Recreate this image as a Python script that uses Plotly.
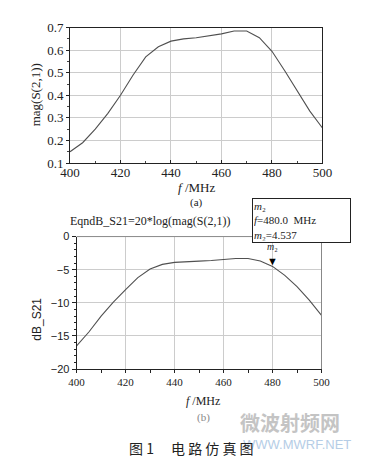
import plotly.graph_objects as go

freq = [400, 405, 410, 415, 420, 425, 430, 435, 440, 445, 450, 455, 460, 465, 470, 475, 480, 485, 490, 495, 500]
mag_s21 = [0.15, 0.19, 0.25, 0.32, 0.40, 0.49, 0.57, 0.615, 0.64, 0.65, 0.655, 0.663, 0.672, 0.685, 0.685, 0.655, 0.595, 0.51, 0.42, 0.33, 0.255]
db_s21 = [-16.5, -14.4, -12.0, -9.9, -8.0, -6.2, -4.9, -4.2, -3.9, -3.75, -3.7, -3.6, -3.45, -3.3, -3.3, -3.7, -4.5, -5.85, -7.55, -9.6, -11.9]
x_ticks = [400, 420, 440, 460, 480, 500]
mag_ticks = [0.1, 0.2, 0.3, 0.4, 0.5, 0.6, 0.7]
db_ticks = [-20, -15, -10, -5, 0]
marker_f = 480

W, H = 367, 462
def px(x): return x / W
def py(y): return 1 - y / H

serif = "Liberation Serif"
sans = "Liberation Sans"
grid = "#cccccc"
line_col = "#505050"

fig = go.Figure()
fig.add_trace(go.Scatter(x=freq, y=mag_s21, mode="lines", line=dict(color=line_col, width=1.1),
                         xaxis="x", yaxis="y", showlegend=False, hoverinfo="skip"))
fig.add_trace(go.Scatter(x=freq, y=db_s21, mode="lines", line=dict(color=line_col, width=1.1),
                         xaxis="x2", yaxis="y2", showlegend=False, hoverinfo="skip"))

def axis(**kw):
    d = dict(showline=True, linecolor="#222", linewidth=1,
             showgrid=True, gridcolor=grid, gridwidth=1, zeroline=False,
             ticks="outside", ticklen=3, tickcolor="#222")
    d.update(kw)
    return d

fig.update_layout(
    width=W, height=H, margin=dict(l=0, r=0, t=0, b=0),
    paper_bgcolor="white", plot_bgcolor="white",
    xaxis=axis(domain=[px(55), px(322)], range=[400, 500], tickvals=x_ticks, mirror=True,
               tickfont=dict(family=serif, size=13, color="#222"), anchor="y",
               ticks="inside", ticklabelstandoff=-3,
               minor=dict(dtick=10, ticks="inside", ticklen=2, tickcolor="#444", showgrid=False)),
    yaxis=axis(domain=[py(153), py(13)], range=[0.1, 0.7], tickvals=mag_ticks, tickformat=".1f", mirror=True,
               tickfont=dict(family=serif, size=13, color="#222"), anchor="x",
               minor=dict(dtick=0.05, ticks="outside", ticklen=2, tickcolor="#444", showgrid=False)),
    xaxis2=axis(domain=[px(62), px(321)], range=[400, 500], tickvals=x_ticks,
                tickfont=dict(family=serif, size=11, color="#222"), anchor="y2",
                minor=dict(dtick=10, ticks="outside", ticklen=3, tickcolor="#222", showgrid=False)),
    yaxis2=axis(domain=[py(366), py(229)], range=[-20, 0], tickvals=db_ticks, ticklen=4,
                tickfont=dict(family=sans, size=11, color="#222"), anchor="x2",
                minor=dict(dtick=1, ticks="outside", ticklen=2, tickcolor="#222", showgrid=False)),
)

# light frame on top/right of lower plot
fig.add_shape(type="line", xref="x2 domain", yref="y2 domain", x0=0, x1=1, y0=1, y1=1,
              line=dict(color="#888888", width=1))
fig.add_shape(type="line", xref="x2 domain", yref="y2 domain", x0=1, x1=1, y0=0, y1=1,
              line=dict(color="#888888", width=1))

ann = []
def txt(x, y, text, size=12, family=serif, color="#222", xanchor="center", yanchor="middle", angle=0, **kw):
    ann.append(dict(x=px(x), y=py(y), xref="paper", yref="paper", text=text, showarrow=False,
                    font=dict(family=family, size=size, color=color), xanchor=xanchor, yanchor=yanchor,
                    textangle=angle, **kw))

txt(18, 83, "mag(S(2,1))", size=13, angle=-90)
txt(189, 178, "<i>f</i> /MHz", size=13)
txt(189, 194, "(a)", size=11)
txt(53, 213, "EqndB_S21=20*log(mag(S(2,1))", size=12, xanchor="left")
txt(20, 314, "dB_S21", size=12, family=sans, angle=-90)
txt(196, 399, "<i>f</i> /MHz", size=12)
txt(196, 416, "(b)", size=11, color="#888")
# watermark
txt(288, 421, "<b>微波射频网</b>", size=20, family="Noto Sans CJK SC", color="#c4c4c4")
txt(295, 444, "WWW.MWRF.NET", size=13, family=sans, color="#b5cde6")
# caption
txt(115, 448, "图 1　 电 路 仿 真 图", size=14, family="Noto Sans CJK SC", color="#222", xanchor="left")

# marker info box
ann.append(dict(x=px(248), y=py(189), xref="paper", yref="paper", xanchor="left", yanchor="top",
                text="<i>m</i>₂<br><i>f</i>=480.0  MHz<br><i>m</i>₂=4.537",
                showarrow=False, align="left", bgcolor="white", bordercolor="#222", borderwidth=1,
                borderpad=1, width=95, font=dict(family=serif, size=11, color="#222")))

# marker triangle and label on curve
m_val = db_s21[freq.index(marker_f)]
ann.append(dict(x=marker_f, y=m_val, xref="x2", yref="y2", text="▼", showarrow=False,
                yshift=6, font=dict(size=11, color="black"), xanchor="center", yanchor="middle"))
ann.append(dict(x=marker_f, y=m_val, xref="x2", yref="y2", text="<i>m</i>₂", showarrow=False,
                yshift=20, font=dict(family=serif, size=10, color="#222"), xanchor="center", yanchor="middle"))

fig.update_layout(annotations=ann)
fig.write_html("out.html")
